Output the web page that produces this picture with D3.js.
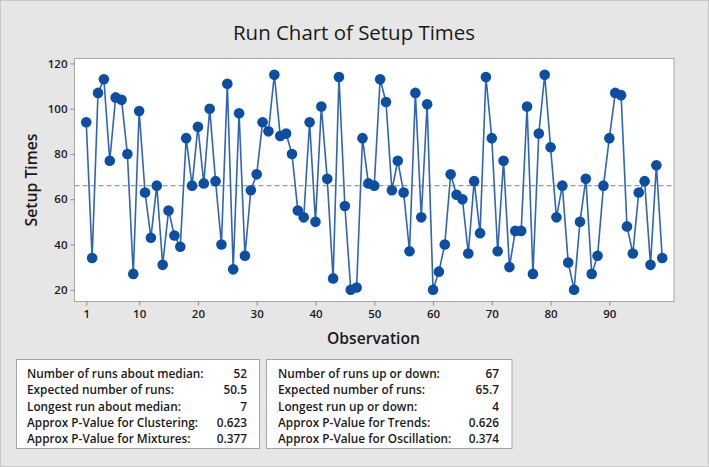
<!DOCTYPE html>
<html><head><meta charset="utf-8">
<script src="https://cdn.jsdelivr.net/npm/d3@7"></script>
<style>
html,body{margin:0;padding:0;background:#e6e6e6;}
svg{display:block;font-family:"Open Sans","Noto Sans",sans-serif;}
</style></head>
<body>
<svg id="c" width="709" height="467"></svg>
<script>
const setupTimes = [94,34,107,113,77,105,104,80,27,99,63,43,66,31,55,44,39,87,66,92,67,100,68,40,111,29,98,35,64,71,94,90,115,88,89,80,55,52,94,50,101,69,25,114,57,20,21,87,67,66,113,103,64,77,63,37,107,52,102,20,28,40,71,62,60,36,68,45,114,87,37,77,30,46,46,101,27,89,115,83,52,66,32,20,50,69,27,35,66,87,107,106,48,36,63,68,31,75,34];
const medianValue = 66;
const xTicks = [1,10,20,30,40,50,60,70,80,90];
const yTicks = [20,40,60,80,100,120];
const statsLeftLabels = ["Number of runs about median:","Expected number of runs:","Longest run about median:","Approx P-Value for Clustering:","Approx P-Value for Mixtures:"];
const statsLeftValues = ["52","50.5","7","0.623","0.377"];
const statsRightLabels = ["Number of runs up or down:","Expected number of runs:","Longest run up or down:","Approx P-Value for Trends:","Approx P-Value for Oscillation:"];
const statsRightValues = ["67","65.7","4","0.626","0.374"];

const svg = d3.select("#c");
const W = 709, H = 467;
svg.append("rect").attr("x",0.5).attr("y",0.5).attr("width",W-1).attr("height",H-1)
  .attr("fill","#e6e6e6").attr("stroke","#c8c8c8");

const L = 74.5, R = 674, T = 58.5, B = 301.5;
const x = d3.scaleLinear().domain([-1,101]).range([L,R]);
const y = d3.scaleLinear().domain([14.8,122.2]).range([B,T]);

svg.append("text").attr("x",354).attr("y",40).attr("text-anchor","middle")
  .attr("font-size",20.5).attr("fill","#1a1a1a")
  .attr("textLength",242).attr("lengthAdjust","spacingAndGlyphs").text("Run Chart of Setup Times");

svg.append("rect").attr("x",L).attr("y",T).attr("width",R-L).attr("height",B-T)
  .attr("fill","#fff").attr("stroke","#a6a6a6").attr("stroke-width",1);

const yAxis = svg.append("g").attr("transform",`translate(${L},0)`)
  .call(d3.axisLeft(y).tickValues(yTicks).tickSize(4).tickPadding(3));
const xAxis = svg.append("g").attr("transform",`translate(0,${B})`)
  .call(d3.axisBottom(x).tickValues(xTicks).tickSize(4).tickPadding(4));
[yAxis,xAxis].forEach(g=>{
  g.select(".domain").remove();
  g.selectAll(".tick line").attr("stroke","#8c8c8c");
  g.selectAll(".tick text").attr("fill","#1a1a1a").attr("font-size",11.5).attr("font-weight",600)
    .attr("font-family","'Open Sans','Noto Sans',sans-serif");
});

svg.append("line").attr("x1",L).attr("x2",R).attr("y1",y(medianValue)).attr("y2",y(medianValue))
  .attr("stroke","#9a9a9a").attr("stroke-width",1.3).attr("stroke-dasharray","5,3");

const line = d3.line().x((d,i)=>x(i+1)).y(d=>y(d));
svg.append("path").datum(setupTimes).attr("d",line).attr("fill","none")
  .attr("stroke","#2f64b9").attr("stroke-width",1.6);
svg.selectAll("circle.pt").data(setupTimes).join("circle").attr("class","pt")
  .attr("cx",(d,i)=>x(i+1)).attr("cy",d=>y(d)).attr("r",5.3).attr("fill","#0b4ea2");

svg.append("text").attr("x",373.5).attr("y",344).attr("text-anchor","middle")
  .attr("font-size",16.5).attr("font-weight",600).attr("fill","#1a1a1a")
  .attr("textLength",93).attr("lengthAdjust","spacingAndGlyphs").text("Observation");
svg.append("text").attr("transform","translate(37,180) rotate(-90)").attr("text-anchor","middle")
  .attr("font-size",16.5).attr("font-weight",600).attr("fill","#1a1a1a")
  .attr("textLength",93).attr("lengthAdjust","spacingAndGlyphs").text("Setup Times");

function box(x0,x1,labels,values,labX,valX){
  svg.append("rect").attr("x",x0).attr("y",359.5).attr("width",x1-x0).attr("height",89)
    .attr("fill","#fff").attr("stroke","#a6a6a6");
  const rows=[377.5,394,410.7,426.8,442.7];
  labels.forEach((t,i)=>{
    svg.append("text").attr("x",labX).attr("y",rows[i]).attr("font-size",11.8).attr("font-weight",600)
      .attr("fill","#1a1a1a").text(t);
    svg.append("text").attr("x",valX).attr("y",rows[i]).attr("text-anchor","end").attr("font-size",11.8)
      .attr("font-weight",600).attr("fill","#1a1a1a").text(values[i]);
  });
}
box(16.5,259.5,statsLeftLabels,statsLeftValues,27,247);
box(266.5,512,statsRightLabels,statsRightValues,278,499);
</script>
</body></html>
